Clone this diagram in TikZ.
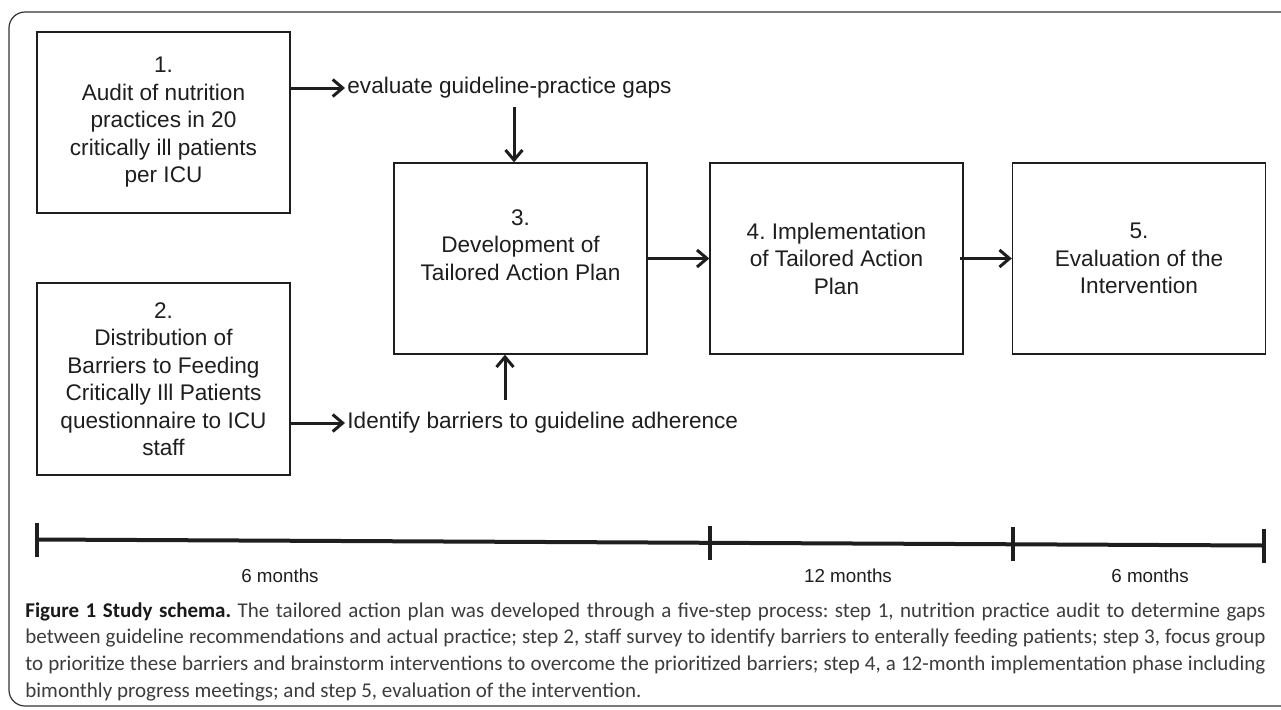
\documentclass[tikz,border=0pt]{standalone}
\usepackage{fontspec}
\setmainfont{Liberation Sans}
\newfontfamily\capfont{Carlito}
\usetikzlibrary{arrows.meta}
\definecolor{ink}{HTML}{1E1E1E}
\definecolor{capgray}{HTML}{3C3C3C}
\frenchspacing
\begin{document}
\begin{tikzpicture}[x=0.5pt,y=-0.5pt,
  stepbox/.style={draw=ink, line width=0.7pt, rectangle, minimum width=126.5pt,
    align=center, font=\fontsize{11.3}{13.75}\selectfont, text=ink, inner sep=0pt},
  flow/.style={line width=1.5pt, draw=ink,
    -{Straight Barb[length=5pt,width=8.5pt]}},
  sidelbl/.style={anchor=west, inner sep=0pt, font=\fontsize{11.3}{13.75}\selectfont, text=ink},
  durlbl/.style={inner sep=0pt, font=\fontsize{9.4}{11}\selectfont, text=ink},
  scale line/.style={line width=2pt, draw=ink},
  frame/.style={draw=black!80, line width=0.6pt, rounded corners=8pt}
]
\useasboundingbox (0,0) rectangle (1281,709);
\draw[frame] (9,12) rectangle (1310,706);

% boxes
\node[stepbox, minimum height=90.5pt] (b1) at (163.5,122.5)
  {1.\\Audit of nutrition\\practices in 20\\critically ill patients\\per ICU};
\node[stepbox, minimum height=96pt] (b2) at (163.5,379)
  {2.\\Distribution of\\Barriers to Feeding\\Critically Ill Patients\\questionnaire to ICU\\staff};
\node[stepbox, minimum height=95.5pt] (b3) at (520.5,258.5)
  {3.\\Development of\\Tailored Action Plan\\~};
\node[stepbox, minimum height=95.5pt] (b4) at (836.5,258.5)
  {4. Implementation\\of Tailored Action\\Plan};
\node[stepbox, minimum height=95.5pt] (b5) at (1139,258.5)
  {5.\\Evaluation of the\\Intervention};

% side labels
\node[sidelbl] (gaps) at (347,88) {evaluate guideline-practice gaps};
\node[sidelbl] (barr) at (347,423) {Identify barriers to guideline adherence};

\coordinate (d1) at (514,107);
\coordinate (u1) at (505,400);

\draw[flow] (b1.east |- gaps.west) -- ([xshift=-1pt]gaps.west);
\draw[flow] (b2.east |- barr.west) -- ([xshift=-1pt]barr.west);
\draw[flow] (d1) -- (d1 |- b3.north);
\draw[flow] (u1) -- (u1 |- b3.south);
\draw[flow] (b3.east) -- (b4.west);
\draw[flow] ([xshift=-2pt]b4.east) -- (b5.west);

% timeline
\coordinate (t0) at (37,539.5);
\coordinate (t1) at (710,542.5);
\coordinate (t2) at (1013,544);
\coordinate (t3) at (1264,545.5);
\draw[scale line] (t0) -- (t3);
\foreach \t in {t0,t1,t2,t3}
  \draw[scale line] ([yshift=8.5pt]\t) -- ([yshift=-8.5pt]\t);
\node[durlbl] (m1) at (280,576) {6 months};
\node[durlbl] (m2) at (848,576) {12 months};
\node[durlbl] (m3) at (1150,576) {6 months};

% caption
\node[anchor=north west, inner sep=0pt, text width=620pt, align=justify,
  font=\capfont\fontsize{10.5}{13.35}\selectfont, text=capgray] (cap) at (25,602)
  {{\bfseries\color{black!90}Figure 1 Study schema.} The tailored action plan was developed through a five-step process: step 1, nutrition practice audit to determine gaps\linebreak
  between guideline recommendations and actual practice; step 2, staff survey to identify barriers to enterally feeding patients; step 3, focus group\linebreak
  to prioritize these barriers and brainstorm interventions to overcome the prioritized barriers; step 4, a 12-month implementation phase including\linebreak
  bimonthly progress meetings; and step 5, evaluation of the intervention.};
\end{tikzpicture}
\end{document}
